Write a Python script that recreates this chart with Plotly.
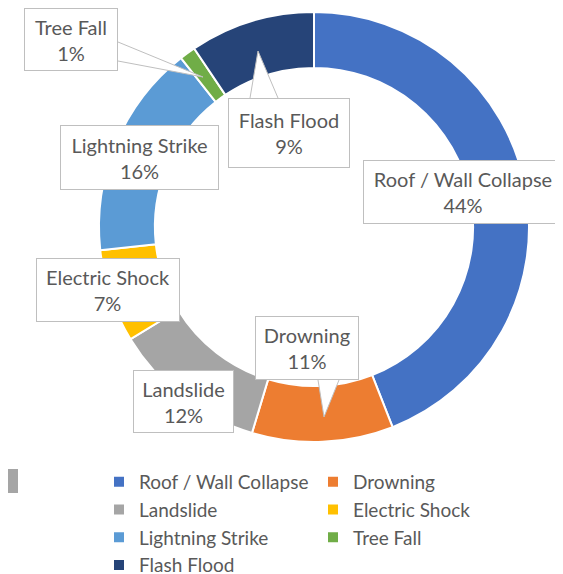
import plotly.graph_objects as go

W, H = 563, 574
OFF = 8  # the page body margin shifts the figure by 8px

causes = [
    "Roof / Wall Collapse",
    "Drowning",
    "Landslide",
    "Electric Shock",
    "Lightning Strike",
    "Tree Fall",
    "Flash Flood",
]
values = [44.0, 10.6, 11.6, 7.0, 16.1, 1.2, 9.4]
colors = ["#4472C4", "#ED7D31", "#A5A5A5", "#FFC000", "#5B9BD5", "#70AD47", "#264478"]

TEXT = "#595959"
FONT = "Lato"

# callout boxes: (left, top, right, bottom) in px of the page
boxes = [
    (363, 160, 563, 224),
    (255, 316, 359, 380),
    (133, 370, 234, 433),
    (36, 258, 180, 322),
    (60, 125, 219, 190),
    (24, 8, 118, 71),
    (228, 98, 350, 168),
]
# callout pointers: base points and tip, px
pointers = {
    1: [(318, 380), (324, 417), (339, 380)],
    5: [(118, 42), (203, 77), (118, 61)],
    6: [(250, 98), (258, 51), (278, 98)],
}


def px(x):
    return (x - OFF) / W


def py(y):
    return 1 - (y - OFF) / H


total = sum(values)
percents = [round(v / total * 100) for v in values]

fig = go.Figure(
    go.Pie(
        labels=causes,
        values=values,
        hole=0.74,
        sort=False,
        direction="clockwise",
        rotation=0,
        textinfo="none",
        hoverinfo="label+percent",
        marker=dict(colors=colors, line=dict(color="white", width=2)),
        domain=dict(x=[px(99), px(529)], y=[py(442), py(12)]),
    )
)

for i, pts in pointers.items():
    path = "M " + " L ".join(f"{px(x)},{py(y)}" for x, y in pts)
    fig.add_shape(
        type="path",
        path=path,
        xref="paper",
        yref="paper",
        fillcolor="white",
        line=dict(color="#BFBFBF", width=1),
        layer="above",
    )

for name, pct, (l, t, r, b) in zip(causes, percents, boxes):
    fig.add_annotation(
        x=px((l + r) / 2),
        y=py((t + b) / 2),
        xref="paper",
        yref="paper",
        xanchor="center",
        yanchor="middle",
        text=f"{name}<br>{pct}%",
        showarrow=False,
        width=r - l - 4,
        height=b - t - 4,
        align="center",
        valign="middle",
        bgcolor="white",
        bordercolor="#BFBFBF",
        borderwidth=1,
        borderpad=1,
        font=dict(size=20, color=TEXT, family=FONT),
    )

# stray grey block at the left edge of the original image
fig.add_shape(
    type="rect",
    x0=px(0), x1=px(18), y0=py(493), y1=py(469),
    xref="paper", yref="paper",
    fillcolor="#A5A5A5", line=dict(width=0),
)

fig.update_layout(
    width=W,
    height=H,
    margin=dict(l=0, r=0, t=0, b=0, autoexpand=False),
    paper_bgcolor="white",
    plot_bgcolor="white",
    font=dict(family=FONT, size=20, color=TEXT),
    showlegend=True,
    legend=dict(
        orientation="h",
        x=px(99),
        xanchor="left",
        y=py(463),
        yanchor="top",
        entrywidth=169,
        entrywidthmode="pixels",
        itemwidth=30,
        traceorder="normal",
        font=dict(size=19, color=TEXT, family=FONT),
        bgcolor="rgba(0,0,0,0)",
    ),
)

fig.write_html("out.html")
